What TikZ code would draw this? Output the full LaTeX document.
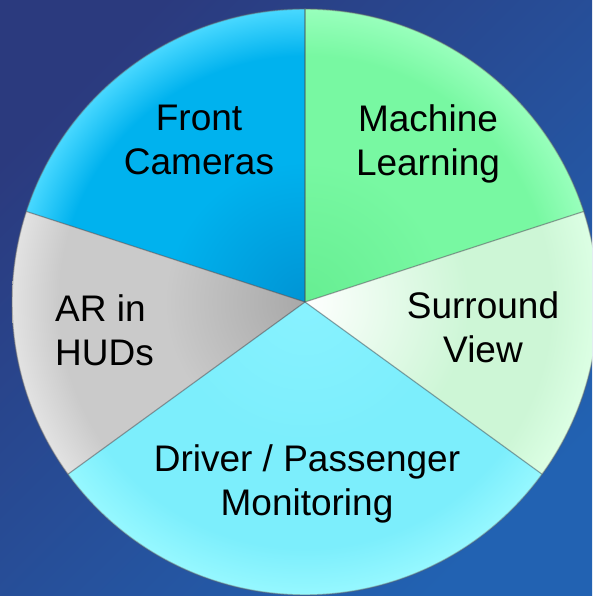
\documentclass[tikz,border=0pt]{standalone}
\usepackage{fontspec}
\setmainfont{Liberation Sans}
\definecolor{bgA}{HTML}{2B3A7E}
\definecolor{bgB}{HTML}{2262B2}
% Front Cameras
\definecolor{frIn}{HTML}{0094D4}
\definecolor{frBase}{HTML}{00B2EE}
\definecolor{frRim}{HTML}{48D8FF}
% Machine Learning
\definecolor{mlIn}{HTML}{66EE92}
\definecolor{mlBase}{HTML}{78F8A2}
\definecolor{mlRim}{HTML}{98FFBC}
% Surround View
\definecolor{svIn}{HTML}{FFFFFF}
\definecolor{svBase}{HTML}{CDF6D6}
\definecolor{svRim}{HTML}{DCFFE4}
% Driver / Passenger
\definecolor{drIn}{HTML}{88F2FF}
\definecolor{drBase}{HTML}{7CEEFC}
\definecolor{drRim}{HTML}{96F8FF}
% AR in HUDs
\definecolor{arIn}{HTML}{A8A8A8}
\definecolor{arBase}{HTML}{CACACA}
\definecolor{arRim}{HTML}{E2E2E2}
\pgfdeclareradialshading{shFront}{\pgfpoint{0bp}{0bp}}{color(0bp)=(frIn); color(12bp)=(frBase); color(21bp)=(frBase); color(25bp)=(frRim); color(50bp)=(frRim)}
\pgfdeclareradialshading{shML}{\pgfpoint{0bp}{0bp}}{color(0bp)=(mlIn); color(12bp)=(mlBase); color(21bp)=(mlBase); color(25bp)=(mlRim); color(50bp)=(mlRim)}
\pgfdeclareradialshading{shSV}{\pgfpoint{0bp}{0bp}}{color(0bp)=(svIn); color(14bp)=(svBase); color(21bp)=(svBase); color(25bp)=(svRim); color(50bp)=(svRim)}
\pgfdeclareradialshading{shDR}{\pgfpoint{0bp}{0bp}}{color(0bp)=(drIn); color(12bp)=(drBase); color(21bp)=(drBase); color(25bp)=(drRim); color(50bp)=(drRim)}
\pgfdeclareradialshading{shAR}{\pgfpoint{0bp}{0bp}}{color(0bp)=(arIn); color(12bp)=(arBase); color(21bp)=(arBase); color(25bp)=(arRim); color(50bp)=(arRim)}
\tikzset{
  seplineA/.style={draw=black!70, draw opacity=0.45, line width=1.2pt},
  rimline/.style={draw=black!60, draw opacity=0.45, line width=1.4pt},
  lbl/.style={font=\fontsize{37}{44}\selectfont, text=black, inner sep=0pt, align=center}
}
\begin{document}
\begin{tikzpicture}[x=1pt,y=1pt]
\useasboundingbox (0,0) rectangle (592,596);
\clip (0,0) rectangle (592,596);
\shade[left color=bgA, right color=bgB, shading angle=45] (-10,-10) rectangle (602,606);
\def\R{293}
\coordinate (C) at (305,294);
\path (C) ++(90:\R) coordinate (p90);
\path (C) ++(18:\R) coordinate (p18);
\path (C) ++(-36:\R) coordinate (pm36);
\path (C) ++(216:\R) coordinate (p216);
\path (C) ++(162:\R) coordinate (p162);
% Front Cameras slice
\begin{scope}
  \clip (C) -- (p90) arc[start angle=90, end angle=162, radius=\R] -- cycle;
  \shade[shading=shFront] (C) circle[radius=\R];
\end{scope}
% Machine Learning slice
\begin{scope}
  \clip (C) -- (p18) arc[start angle=18, end angle=90, radius=\R] -- cycle;
  \shade[shading=shML] (C) circle[radius=\R];
\end{scope}
% Surround View slice
\begin{scope}
  \clip (C) -- (pm36) arc[start angle=-36, end angle=18, radius=\R] -- cycle;
  \shade[shading=shSV] (C) circle[radius=\R];
\end{scope}
% Driver / Passenger slice
\begin{scope}
  \clip (C) -- (p216) arc[start angle=216, end angle=324, radius=\R] -- cycle;
  \shade[shading=shDR] (C) circle[radius=\R];
\end{scope}
% AR in HUDs slice
\begin{scope}
  \clip (C) -- (p162) arc[start angle=162, end angle=216, radius=\R] -- cycle;
  \shade[shading=shAR] (C) circle[radius=\R];
\end{scope}
% separators and rim
\draw[seplineA] (C) -- (p90);
\draw[seplineA] (C) -- (p18);
\draw[seplineA] (C) -- (pm36);
\draw[seplineA] (C) -- (p216);
\draw[seplineA] (C) -- (p162);
\draw[rimline] (C) circle[radius=\R];
% labels
\node[lbl] (front) at (199,456.3) {Front\\Cameras};
\node[lbl] (ml) at (428,452.4) {Machine\\Learning};
\node[lbl] (sv) at (483,268.8) {Surround\\View};
\node[lbl, align=left, anchor=west] (ar) at (55,265.3) {AR in\\HUDs};
\node[lbl] (dr) at (307,112.5) {Driver / Passenger\\Monitoring};
\end{tikzpicture}
\end{document}
